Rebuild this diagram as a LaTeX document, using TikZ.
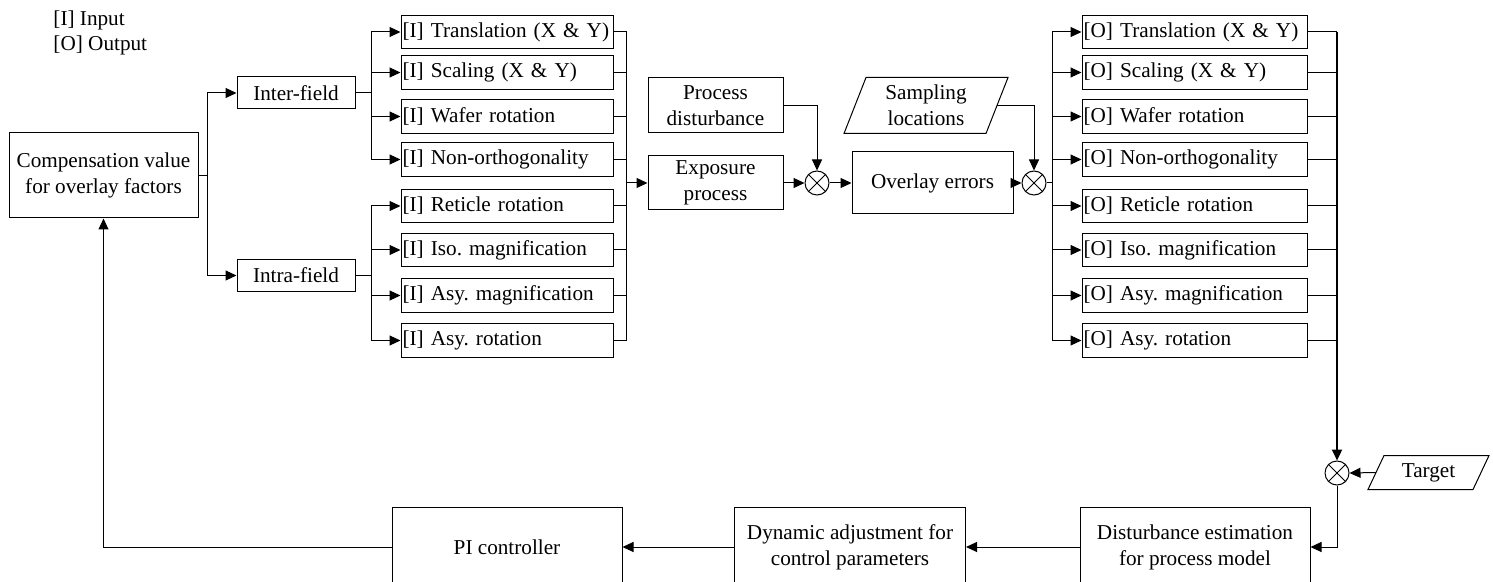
\documentclass[tikz,border=0pt]{standalone}
\usepackage{fontspec}
\setmainfont{Liberation Serif}
\usetikzlibrary{arrows.meta}
\frenchspacing
\begin{document}
\begin{tikzpicture}[x=0.5pt,y=-0.5pt,
  font=\fontsize{10.6}{13}\selectfont,
  line width=0.5pt,
  >={Triangle[length=5.5pt,width=5pt]},
  box/.style={draw, inner sep=0pt, align=center},
  inbox/.style={draw, inner xsep=0.8pt, inner ysep=0pt, minimum height=16.7pt,
    text width=104.4pt, align=left},
  outbox/.style={draw, inner xsep=0.8pt, inner ysep=0pt, minimum height=16.7pt,
    text width=110.9pt, align=left},
  sumj/.style={draw, circle, minimum size=12pt, inner sep=0pt},
  slanted/.style={inner sep=0pt, align=center},
  bus/.style={line width=1.1pt}
]
\useasboundingbox (0,0) rectangle (1493,582);

% legend
\node[anchor=north west, align=left, inner sep=0pt,
  font=\fontsize{10.6}{12.6}\selectfont] (legend) at (53,10) {[I] Input\\{}[O] Output};

% compensation block and field split
\node[box, minimum width=94.5pt, minimum height=42.5pt] (comp) at (103.5,175.5)
  {Compensation value\\for overlay factors};
\node[box, minimum width=59pt, minimum height=16pt] (inter) at (296,93) {Inter-field};
\node[box, minimum width=59pt, minimum height=16pt] (intra) at (296,275.5) {Intra-field};

\coordinate (bA) at (207,175.5);
\draw (comp.east) -- (bA);
\draw[->] (bA) |- (inter.west);
\draw[->] (bA) |- (intra.west);

% input factors
\foreach \n/\y/\t in {
  1/32/{[I] Translation (X \& Y)},
  2/72.5/{[I] Scaling (X \& Y)},
  3/116.5/{[I] Wafer rotation},
  4/159.5/{[I] Non-orthogonality},
  5/206/{[I] Reticle rotation},
  6/250/{[I] Iso. magnification},
  7/295.5/{[I] Asy. magnification},
  8/340.5/{[I] Asy. rotation}}{
  \node[inbox] (i\n) at (507,\y) {\mbox{\t}};
}
\coordinate (bI) at (371,93);
\coordinate (bJ) at (371,275.5);
\draw (inter.east) -- (bI);
\draw (intra.east) -- (bJ);
\foreach \n in {1,2,3,4}{\draw[->] (bI) |- (i\n.west);}
\foreach \n in {5,6,7,8}{\draw[->] (bJ) |- (i\n.west);}

\coordinate (bR) at (626,183);
\foreach \n in {1,...,8}{\draw (i\n.east) -| (bR);}

% exposure and measurement
\node[box, minimum width=67.5pt, minimum height=27.5pt] (pd) at (715.5,105.5)
  {Process\\disturbance};
\node[box, minimum width=67.5pt, minimum height=27pt] (exp) at (715.5,183)
  {Exposure\\process};
\node[sumj] (j1) at (817,183) {};
\draw (j1.north east) -- (j1.south west) (j1.north west) -- (j1.south east);
\node[box, minimum width=80.5pt, minimum height=31pt] (ov) at (932.5,183)
  {Overlay errors};
\node[slanted, minimum width=70.5pt, minimum height=27.5pt] (samp) at (926,105.5)
  {Sampling\\locations};
\draw ([xshift=5.5pt]samp.north west) -- ([xshift=5.5pt]samp.north east)
  -- ([xshift=-5.5pt]samp.south east) -- ([xshift=-5.5pt]samp.south west) -- cycle;
\node[sumj] (j2) at (1034,183) {};
\draw (j2.north east) -- (j2.south west) (j2.north west) -- (j2.south east);

\draw[->] (bR) -- (exp.west);
\draw[->] (pd.east) -| (j1.north);
\draw[->] (exp.east) -- (j1.west);
\draw[->] (j1.east) -- (ov.west);
\draw[->] (ov.east) -- (j2.west);
\draw[->] (samp.east) -| (j2.north);

% output factors
\foreach \n/\y/\t in {
  1/32/{[O] Translation (X \& Y)},
  2/72.5/{[O] Scaling (X \& Y)},
  3/116.5/{[O] Wafer rotation},
  4/159.5/{[O] Non-orthogonality},
  5/206/{[O] Reticle rotation},
  6/250/{[O] Iso. magnification},
  7/295.5/{[O] Asy. magnification},
  8/340.5/{[O] Asy. rotation}}{
  \node[outbox] (o\n) at (1194.5,\y) {\mbox{\t}};
}
\coordinate (bO) at (1052,183);
\draw (j2.east) -- (bO);
\foreach \n in {1,...,8}{\draw[->] (bO) |- (o\n.west);}

\coordinate (bT) at (1337,32);
\foreach \n in {1,...,8}{\draw (o\n.east) -- (o\n.east -| bT);}

% feedback path
\node[sumj] (j3) at (1337,473) {};
\draw (j3.north east) -- (j3.south west) (j3.north west) -- (j3.south east);
\draw[->, bus] (bT) -- (j3.north);

\node[slanted, minimum width=52pt, minimum height=16.5pt] (tgt) at (1428.5,472.5) {Target};
\draw ([xshift=4pt]tgt.north west) -- ([xshift=4pt]tgt.north east)
  -- ([xshift=-4pt]tgt.south east) -- ([xshift=-4pt]tgt.south west) -- cycle;
\draw[->] (tgt.west) -- (j3.east);

\node[box, minimum width=115pt, minimum height=40pt] (dist) at (1195,547)
  {Disturbance estimation\\for process model};
\node[box, minimum width=115.5pt, minimum height=40pt] (dyn) at (850,547)
  {Dynamic adjustment for\\control parameters};
\node[box, minimum width=115pt, minimum height=40pt] (pi) at (507,547)
  {PI controller};

\draw[->] (j3.south) |- (dist.east);
\draw[->] (dist.west) -- (dyn.east);
\draw[->] (dyn.west) -- (pi.east);
\draw[->] (pi.west) -| (comp.south);
\end{tikzpicture}
\end{document}
